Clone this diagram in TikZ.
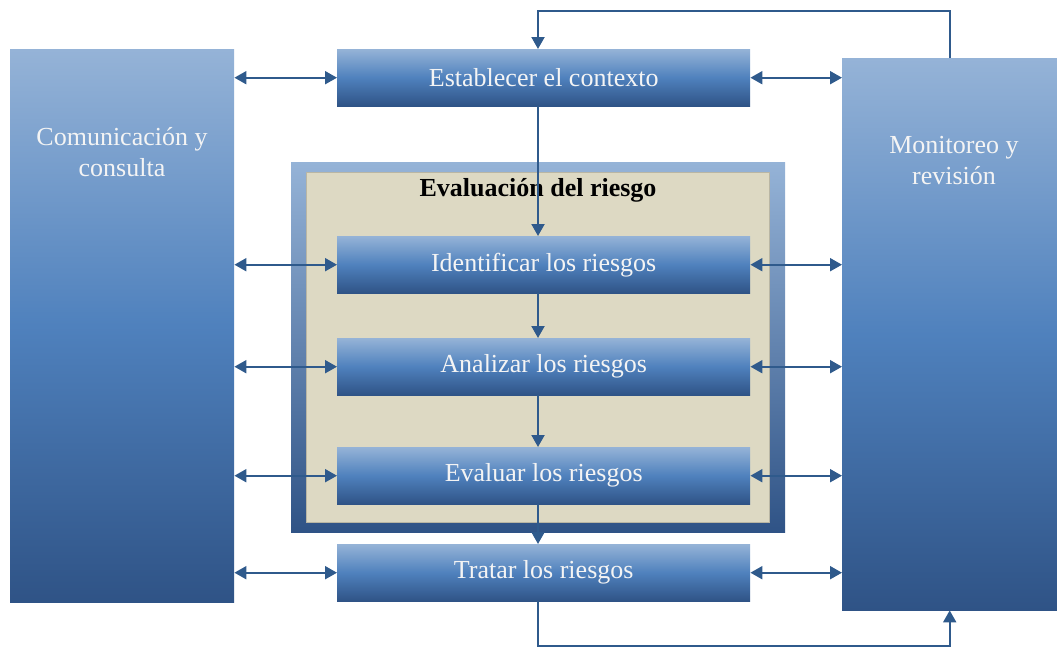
\documentclass[tikz,border=0pt]{standalone}
\usepackage{fontspec}
\setmainfont{Liberation Serif}
\usetikzlibrary{arrows.meta}
\definecolor{lb}{HTML}{95B3D7}
\definecolor{mb}{HTML}{4F81BD}
\definecolor{db}{HTML}{2F5386}
\definecolor{beige}{HTML}{DDD9C3}
\definecolor{beigeedge}{HTML}{B9B6A4}
\definecolor{arrc}{HTML}{2F5A8C}
\definecolor{txt}{HTML}{F4F4F4}
\tikzset{
  smallbox/.style={minimum width=413pt, minimum height=57pt, inner sep=0pt, anchor=north west,
    top color=lb, bottom color=db, middle color=mb, text=txt, font=\fontsize{26}{30}\selectfont},
  tallbox/.style={inner sep=0pt, anchor=north west, top color=lb, bottom color=db, middle color=mb},
  talltext/.style={text=txt, align=center, font=\fontsize{26}{31}\selectfont, inner sep=0pt},
  conn/.style={draw=arrc, line width=2pt},
  arr/.style={conn, -{Triangle[length=12pt,width=13pt]}},
  dbl/.style={conn, {Triangle[length=12pt,width=13pt]}-{Triangle[length=12pt,width=13pt]}}
}
\begin{document}
\begin{tikzpicture}[x=1pt,y=-1pt]
\useasboundingbox (0,0) rectangle (1057,648);
% tall boxes
\node[tallbox, minimum width=224pt, minimum height=553pt] (lbox) at (10,49) {};
\node[tallbox, minimum width=215pt, minimum height=552pt] (rbox) at (842,58) {};
\node[talltext] (ltext) at (122,152) {Comunicación y\\consulta};
\node[talltext] (rtext) at (954,161) {Monitoreo y\\revisión};
% evaluation frame
\node[inner sep=0pt, anchor=north west, minimum width=494pt, minimum height=370pt, top color=lb, bottom color=db] (eframe) at (291,162) {};
\node[inner sep=0pt, anchor=north west, minimum width=463pt, minimum height=350pt, fill=beige, draw=beigeedge, line width=0.8pt] (einner) at (306,172) {};
\node[font=\fontsize{26}{30}\selectfont\bfseries, text=black, inner sep=0pt] (etitle) at (538,190) {Evaluación del riesgo};
% small boxes
\node[smallbox] (est) at (337,49) {Establecer el contexto};
\node[smallbox] (ide) at (337,236) {Identificar los riesgos};
\node[smallbox] (ana) at (337,338) {Analizar los riesgos};
\node[smallbox] (eva) at (337,447) {Evaluar los riesgos};
\node[smallbox] (tra) at (337,544) {Tratar los riesgos};
% vertical flow
\coordinate (vx) at (538,0);
\coordinate (topy) at (0,11);
\coordinate (boty) at (0,646);
\draw[arr] (vx |- est.south) -- (vx |- ide.north);
\draw[arr] (vx |- ide.south) -- (vx |- ana.north);
\draw[arr] (vx |- ana.south) -- (vx |- eva.north);
\draw[arr] (vx |- eva.south) -- (vx |- tra.north);
% feedback loops
\draw[arr] (rbox.north) -- (rbox.north |- topy) -- (vx |- topy) -- (vx |- est.north);
\draw[arr] (vx |- tra.south) -- (vx |- boty) -- (rbox.south |- boty) -- (rbox.south);
% double arrows
\foreach \b in {est,ide,ana,eva,tra}{
  \draw[dbl] (lbox.east |- \b.west) -- (\b.west);
  \draw[dbl] (\b.east) -- (rbox.west |- \b.east);
}
\end{tikzpicture}
\end{document}
